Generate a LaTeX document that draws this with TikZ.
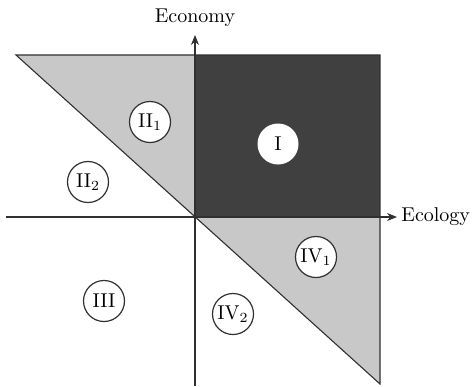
\documentclass[tikz,border=0pt]{standalone}
\usetikzlibrary{arrows.meta}
\definecolor{lightg}{HTML}{C8C8C8}
\definecolor{darkg}{HTML}{404040}
\definecolor{lineg}{HTML}{303030}
\begin{document}
\begin{tikzpicture}[x=0.5pt,y=-0.5pt,
  region/.style={circle,draw=lineg,line width=0.6pt,fill=white,minimum size=20.5pt,inner sep=0pt,font=\normalsize},
  axis/.style={draw=lineg,line width=0.55pt,-{Stealth[length=5pt,width=4pt]}},
  edge/.style={draw=lineg,line width=0.55pt}]
\useasboundingbox (0,0) rectangle (475,386);
\coordinate (O) at (195,217);
\coordinate (TL) at (16,55);
\coordinate (TM) at (195,55);
\coordinate (TR) at (380,55);
\coordinate (MR) at (380,217);
\coordinate (BR) at (380,384);
\coordinate (XL) at (6,217);
\coordinate (XR) at (397,217);
\coordinate (YB) at (195,386);
\coordinate (YT) at (195,35);
\fill[lightg] (TL) -- (TM) -- (O) -- cycle;
\fill[lightg] (O) -- (MR) -- (BR) -- cycle;
\fill[darkg] (TM) rectangle (MR);
\draw[edge] (TL) -- (TR) -- (BR) -- cycle;
\draw[axis] (XL) -- (XR);
\draw[axis] (YB) -- (YT);
\node[anchor=west,inner sep=2pt] (ecol) at (XR) {Ecology};
\node[anchor=south,inner sep=2pt] (econ) at (195,31) {Economy};
\node[region,draw=none] (r1) at (278,144) {I};
\node[region] (r21) at (150,122) {II$_1$};
\node[region] (r22) at (88,182) {II$_2$};
\node[region] (r3) at (104,301) {III};
\node[region] (r41) at (316,257) {IV$_1$};
\node[region] (r42) at (233,314) {IV$_2$};
\end{tikzpicture}
\end{document}
